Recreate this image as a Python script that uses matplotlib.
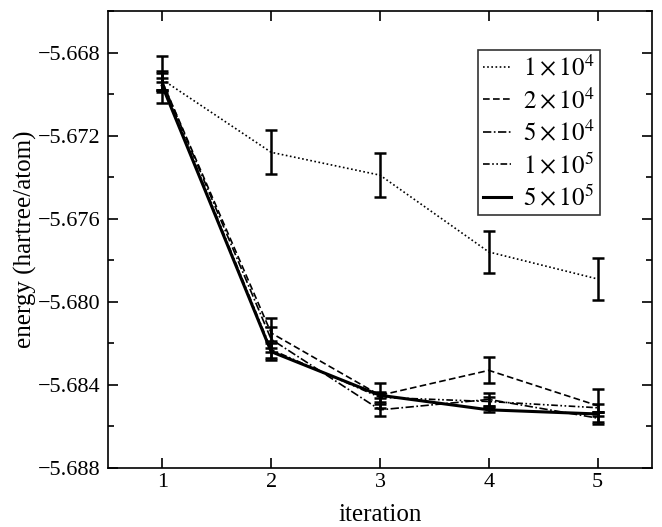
import matplotlib.pyplot as plt
import numpy as np
from matplotlib.ticker import MultipleLocator

plt.rcParams['font.family'] = ['Liberation Serif', 'DejaVu Serif']
plt.rcParams['mathtext.fontset'] = 'stix'

iterations = [1, 2, 3, 4, 5]

# energies per sample size (hartree/atom) and their error bars
e_1e4 = [-5.6693, -5.6728, -5.6739, -5.6776, -5.6789]
err_1e4 = [0.00115, 0.00106, 0.00106, 0.00101, 0.00101]
e_2e4 = [-5.6694, -5.6815, -5.6845, -5.6833, -5.6850]
err_2e4 = [0.0005, 0.0007, 0.0006, 0.00063, 0.0008]
e_5e4 = [-5.6694, -5.6818, -5.6852, -5.6847, -5.6856]
err_5e4 = [0.0004, 0.0006, 0.0003, 0.0003, 0.0003]
e_1e5 = [-5.6695, -5.6823, -5.6846, -5.6848, -5.6851]
err_1e5 = [0.0003, 0.0004, 0.0002, 0.0002, 0.0002]
e_5e5 = [-5.6696, -5.6824, -5.6845, -5.6852, -5.6854]
err_5e5 = [0.0002, 0.0004, 0.00015, 0.0001, 0.0001]

labels = [r'$1\times10^{4}$', r'$2\times10^{4}$', r'$5\times10^{4}$',
          r'$1\times10^{5}$', r'$5\times10^{5}$']

fig = plt.figure(figsize=(6.62, 5.27), dpi=100)
ax = fig.add_axes([0.163, 0.112, 0.822, 0.867])

series = [
    (e_1e4, err_1e4, (0, (1, 1.5)), 1.2),
    (e_2e4, err_2e4, (0, (4, 2)), 1.2),
    (e_5e4, err_5e4, (0, (5, 1.5, 1, 1.5)), 1.2),
    (e_1e5, err_1e5, (0, (4, 1.5, 1, 1.5, 1, 1.5)), 1.2),
    (e_5e5, err_5e5, '-', 2.2),
]

for (y, err, ls, lw), lab in zip(series, labels):
    ax.plot(iterations, y, color='black', linestyle=ls, linewidth=lw, label=lab)
    ax.errorbar(iterations, y, yerr=err, fmt='none', ecolor='black',
                elinewidth=1.8, capsize=4, capthick=1.8)

ax.set_xlim(0.5, 5.5)
ax.set_ylim(-5.688, -5.666)
ax.set_xticks(iterations)
ax.set_yticks([-5.688, -5.684, -5.680, -5.676, -5.672, -5.668])
ax.yaxis.set_minor_locator(MultipleLocator(0.002))
ax.ticklabel_format(axis='y', useOffset=False)

ax.tick_params(which='both', direction='in', top=True, right=True, labelsize=16, width=1.2)
ax.tick_params(which='major', length=7.5)
ax.tick_params(which='minor', length=4)
ax.tick_params(axis='y', pad=5)
for s in ax.spines.values():
    s.set_linewidth(1.2)

ax.set_xlabel('iteration', fontsize=18, labelpad=9)
ax.set_ylabel('energy (hartree/atom)', fontsize=18, labelpad=1)

leg = ax.legend(loc='upper right', bbox_to_anchor=(0.904, 0.915), borderaxespad=0,
                fontsize=18, fancybox=False, handlelength=1.1, handletextpad=0.5,
                labelspacing=0.27, borderpad=0.2)
leg.get_frame().set_edgecolor('black')
leg.get_frame().set_linewidth(1.2)

plt.savefig('out.png', dpi=100)
